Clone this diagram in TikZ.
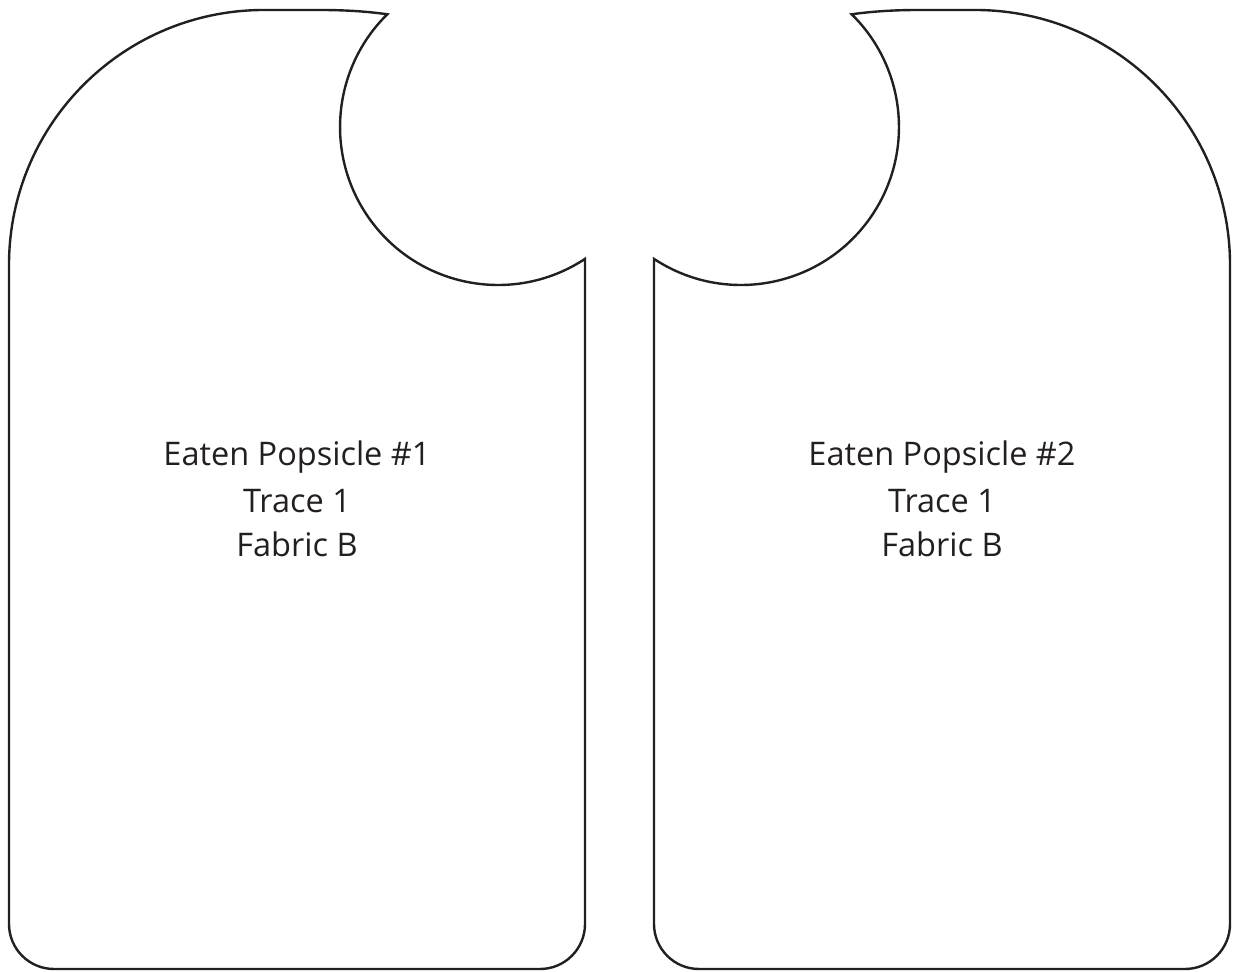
\documentclass[tikz,border=0pt]{standalone}
\usepackage{fontspec}
\setmainfont{Open Sans}
\definecolor{ink}{HTML}{231F20}
\newcommand{\popshape}{%
  (9,706) -- (9,47) arc[start angle=180, end angle=270, radius=45]
  -- (540,2) arc[start angle=270, end angle=360, radius=45]
  -- (585,712.1) arc[start angle=-56.6, end angle=-225.5, radius=158]
  .. controls (368,959.5) and (345,961) .. (320,961)
  -- (264,961) arc[start angle=90, end angle=180, radius=255] -- cycle}
\begin{document}
\begin{tikzpicture}[x=1pt,y=1pt,
  outline/.style={draw=ink, line width=2.4pt, line join=miter},
  label/.style={text=ink, font=\fontsize{32.5}{38}\selectfont, anchor=base, inner sep=0pt}]
\useasboundingbox (0,0) rectangle (1233,971);
\draw[outline] \popshape;
\begin{scope}[xshift=1239pt, xscale=-1]
\draw[outline] \popshape;
\end{scope}
\node[label] (a1) at (297,505) {Eaten Popsicle \#1};
\node[label] (a2) at (297,458) {Trace 1};
\node[label] (a3) at (297,414) {Fabric B};
\node[label] (b1) at (942,505) {Eaten Popsicle \#2};
\node[label] (b2) at (942,458) {Trace 1};
\node[label] (b3) at (942,414) {Fabric B};
\end{tikzpicture}
\end{document}
